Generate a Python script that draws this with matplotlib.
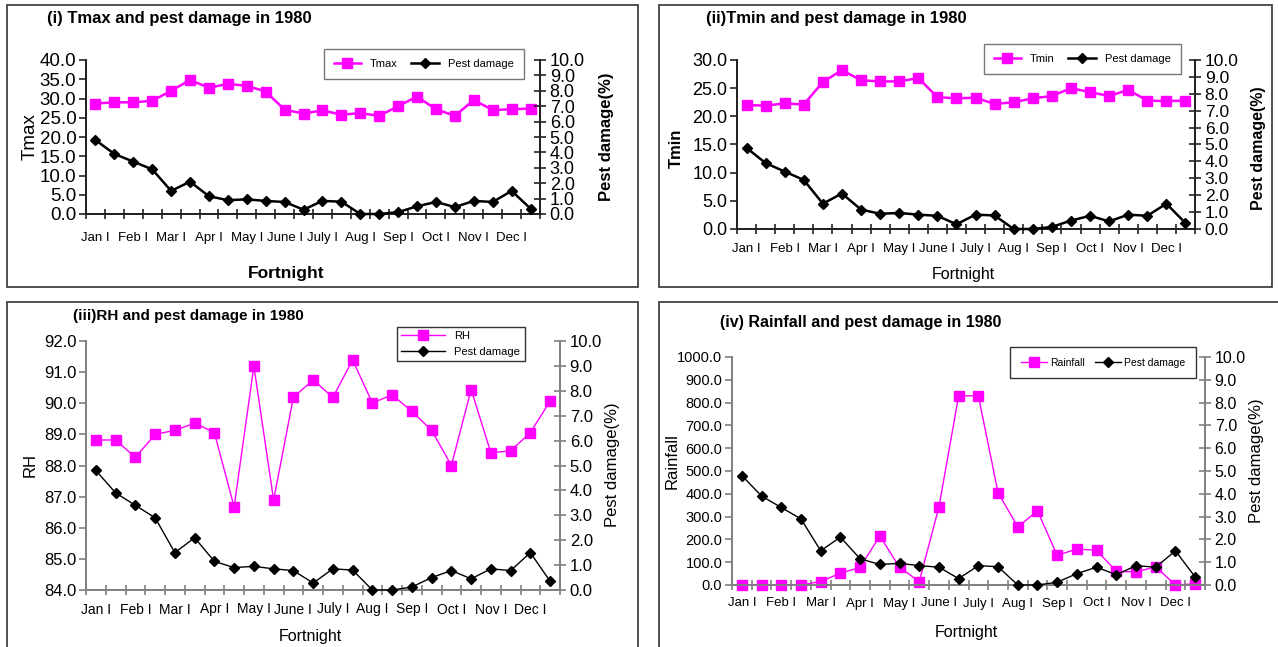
import numpy as np
import matplotlib
matplotlib.use("Agg")
import matplotlib.pyplot as plt
from matplotlib.patches import Rectangle
from matplotlib.ticker import FixedLocator, NullFormatter

plt.rcParams['font.family'] = ['Liberation Sans', 'DejaVu Sans']

W, H = 1278, 647

months = ["Jan I", "Feb I", "Mar I", "Apr I", "May I", "June I",
          "July I", "Aug I", "Sep I", "Oct I", "Nov I", "Dec I"]

pest = [4.8, 3.9, 3.4, 2.9, 1.5, 2.1, 1.15, 0.9, 0.95, 0.85, 0.78, 0.28,
        0.85, 0.8, 0.0, 0.0, 0.12, 0.5, 0.78, 0.45, 0.85, 0.78, 1.5, 0.35]

tmax = [28.7, 29.0, 29.0, 29.4, 32.0, 34.8, 32.8, 33.8, 33.3, 31.8, 27.1, 26.1,
        26.9, 25.8, 26.2, 25.5, 28.0, 30.5, 27.2, 25.5, 29.6, 27.0, 27.2, 27.4]

tmin = [22.0, 21.9, 22.3, 22.1, 26.1, 28.2, 26.4, 26.2, 26.2, 26.8, 23.4, 23.2,
        23.3, 22.2, 22.5, 23.2, 23.6, 25.0, 24.3, 23.6, 24.7, 22.8, 22.7, 22.8]

rh = [88.82, 88.82, 88.26, 89.0, 89.13, 89.36, 89.06, 86.67, 91.19, 86.89, 90.19, 90.75,
      90.19, 91.39, 90.01, 90.27, 89.74, 89.13, 88.0, 90.44, 88.41, 88.47, 89.06, 90.07]

rain = [0, 0, 0, 0, 15, 52, 77, 215, 78, 15, 342, 830,
        830, 405, 255, 325, 130, 158, 152, 60, 57, 80, 0, 5]

x = np.arange(len(pest))


def fx(px):
    return px / W


def fy(py):
    return 1 - py / H


def box(fig, x0, y0, x1, y1):
    fig.patches.append(Rectangle((fx(x0), fy(y1)), fx(x1 - x0), (y1 - y0) / H,
                                 transform=fig.transFigure, fill=False,
                                 edgecolor='#333333', linewidth=1.2))


def panel(fig, rect, data, name, ylim, ystep, p):
    x0, y0, x1, y1 = rect
    ax = fig.add_axes([fx(x0), fy(y1), fx(x1 - x0), (y1 - y0) / H])
    ax2 = ax.twinx()
    l1, = ax.plot(x, data, color='#FF00FF', marker='s', ms=p['ms'], lw=p['lw'],
                  label=name, clip_on=False, zorder=3)
    l2, = ax2.plot(x, pest, color='black', marker='D', ms=p['ms'] - 1.5, lw=p['lw'],
                   label='Pest damage', clip_on=False, zorder=3)
    ax.set_xlim(-0.5, len(x) - 0.5)
    ax.set_ylim(*ylim)
    ax2.set_ylim(0, 10)
    yt = np.arange(ylim[0], ylim[1] + ystep / 2, ystep)
    ax.set_yticks(yt)
    ax.set_yticklabels(["%.1f" % v for v in yt])
    ax2.set_yticks(np.arange(0, 10.5, 1))
    ax2.set_yticklabels(["%.1f" % v for v in np.arange(0, 10.5, 1)])
    ax.set_xticks(x[::2])
    ax.set_xticklabels(months)
    ax.xaxis.set_minor_locator(FixedLocator(np.arange(-0.5, len(x), 1)))
    ax.xaxis.set_minor_formatter(NullFormatter())
    ax.tick_params(axis='x', which='major', length=0, labelsize=p['xs'], pad=p['xpad'])
    ax.tick_params(axis='x', which='minor', length=7, direction='inout', width=1.2,
                   color=p['sc'])
    ax.tick_params(axis='y', labelsize=p['ys'], length=5, width=1.2, pad=2,
                   color=p['sc'])
    ax2.tick_params(axis='y', labelsize=p['ys2'], length=8, width=1.2,
                    direction='inout', pad=3, color=p['sc'])
    for a in (ax, ax2):
        a.spines['top'].set_visible(False)
        for s in a.spines.values():
            s.set_linewidth(1.3)
            s.set_color(p['sc'])
    ax.patch.set_visible(False)
    return ax, ax2, [l1, l2]


fig = plt.figure(figsize=(W / 100, H / 100), dpi=100)

# panel borders
box(fig, 7, 5, 638, 287)
box(fig, 659, 5, 1272, 287)
box(fig, 7, 302, 638, 660)
box(fig, 659, 302, 1285, 660)

# (i) Tmax
p1 = dict(ms=7, lw=1.8, xs=9.5, ys=13.5, ys2=13, xpad=13, sc='#222222')
ax, ax2, h = panel(fig, (86, 60, 540, 214), tmax, 'Tmax', (0, 40), 5, p1)
fig.legend(h, ['Tmax', 'Pest damage'], loc='upper left', ncol=2,
           bbox_to_anchor=(fx(318), fy(43)), fontsize=8, frameon=True,
           fancybox=False, edgecolor='#555555', handlelength=2.5, columnspacing=1.2,
           borderpad=0.9)
fig.text(fx(47), fy(18), "(i) Tmax and pest damage in 1980", fontsize=12,
         fontweight='bold', va='center')
fig.text(fx(30), fy(137), "Tmax", fontsize=13.5, rotation=90, ha='center', va='center')
fig.text(fx(606), fy(137), "Pest damage(%)", fontsize=12, fontweight='bold',
         rotation=90, ha='center', va='center')
fig.text(fx(286), fy(273), "Fortnight", fontsize=12.5, fontweight='bold',
         ha='center', va='center')

# (ii) Tmin
p2 = dict(p1, xpad=10, ys=13, ys2=12.5)
ax, ax2, h = panel(fig, (737, 60, 1195, 229), tmin, 'Tmin', (0, 30), 5, p2)
fig.legend(h, ['Tmin', 'Pest damage'], loc='upper left', ncol=2,
           bbox_to_anchor=(fx(978), fy(38)), fontsize=8, frameon=True,
           fancybox=False, edgecolor='#555555', handlelength=2.5, columnspacing=1.2,
           borderpad=0.9)
fig.text(fx(706), fy(18), "(ii)Tmin and pest damage in 1980", fontsize=12,
         fontweight='bold', va='center')
fig.text(fx(676), fy(148), "Tmin", fontsize=12, fontweight='bold', rotation=90,
         ha='center', va='center')
fig.text(fx(1258), fy(148), "Pest damage(%)", fontsize=11.5, fontweight='bold',
         rotation=90, ha='center', va='center')
fig.text(fx(963), fy(274), "Fortnight", fontsize=11.5, ha='center', va='center')

# (iii) RH
p3 = dict(ms=6.5, lw=1.0, xs=10, ys=12, ys2=12, xpad=9, sc='#808080')
ax, ax2, h = panel(fig, (86, 341, 560, 590), rh, 'RH', (84, 92), 1, p3)
fig.legend(h, ['RH', 'Pest damage'], loc='upper left', ncol=1,
           bbox_to_anchor=(fx(391), fy(321)), fontsize=8, frameon=True,
           fancybox=False, edgecolor='black', handlelength=4, borderpad=0.4,
           labelspacing=0.5)
fig.text(fx(73), fy(316), "(iii)RH and pest damage in 1980", fontsize=11,
         fontweight='bold', va='center')
fig.text(fx(30), fy(465), "RH", fontsize=12, rotation=90, ha='center', va='center')
fig.text(fx(612), fy(465), "Pest damage(%)", fontsize=12, rotation=90,
         ha='center', va='center')
fig.text(fx(310), fy(636), "Fortnight", fontsize=11.5, ha='center', va='center')

# (iv) Rainfall
p4 = dict(p3, ys=10.5, ys2=11.5, xs=9.5)
ax, ax2, h = panel(fig, (732, 357, 1205, 585), rain, 'Rainfall', (0, 1000), 100, p4)
fig.legend(h, ['Rainfall', 'Pest damage'], loc='upper left', ncol=2,
           bbox_to_anchor=(fx(1005), fy(342)), frameon=True, fontsize=7.5,
           fancybox=False, edgecolor='black', handlelength=2.5, columnspacing=1.0,
           handletextpad=0.3, borderpad=1.0)
fig.text(fx(720), fy(323), "(iv) Rainfall and pest damage in 1980", fontsize=11.5,
         fontweight='bold', va='center')
fig.text(fx(672), fy(461), "Rainfall", fontsize=12, rotation=90, ha='center',
         va='center')
fig.text(fx(1257), fy(461), "Pest damage(%)", fontsize=12, rotation=90,
         ha='center', va='center')
fig.text(fx(966), fy(633), "Fortnight", fontsize=11.5, ha='center', va='center')

fig.savefig("out.png", dpi=100)
